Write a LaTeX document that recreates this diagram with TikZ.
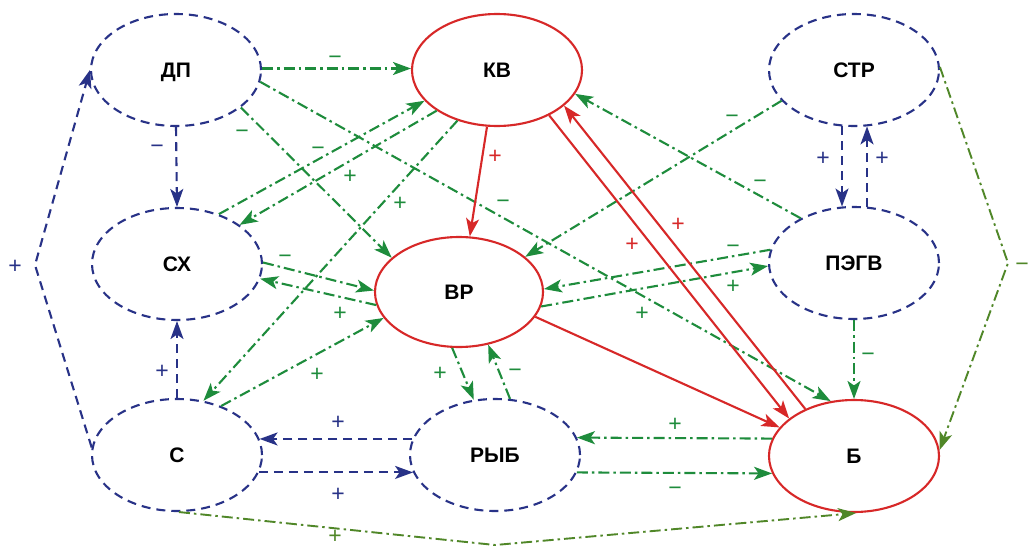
\documentclass[tikz,border=0pt]{standalone}
\usepackage{fontspec}
\setmainfont{Liberation Sans}
\usetikzlibrary{arrows.meta,shapes.geometric}
\definecolor{navy}{RGB}{40,50,135}
\definecolor{grn}{RGB}{30,140,60}
\definecolor{olv}{RGB}{80,135,40}
\definecolor{rd}{RGB}{215,40,40}
\begin{document}
\begin{tikzpicture}[x=1pt,y=-1pt,
  nd/.style={ellipse, inner sep=0pt, minimum width=170pt, minimum height=112pt,
    line width=2.1pt, text height=15pt, text depth=0pt,
    font=\fontsize{21}{21}\selectfont\bfseries},
  bnd/.style={nd, draw=navy, dash pattern=on 9pt off 6pt},
  rnd/.style={nd, draw=rd},
  tipend/.style={-{Stealth[length=18pt,width=13pt,inset=4.5pt]}},
  bl/.style={tipend, navy, line width=2.1pt, dash pattern=on 9pt off 6pt},
  gr/.style={tipend, grn, line width=2.1pt, dash pattern=on 11pt off 4pt on 2.5pt off 4pt},
  ol/.style={tipend, olv, line width=1.9pt, dash pattern=on 11pt off 4pt on 2.5pt off 4pt},
  rl/.style={tipend, rd, line width=2.1pt},
  lb/.style={font=\fontsize{23}{23}\selectfont, inner sep=0pt, anchor=base, yshift=-8.1pt},
]
\useasboundingbox (0,0) rectangle (1031,549);
\fill[white] (0,0) rectangle (1031,549);

% nodes
\node[bnd] (dp)   at (176,70)  {ДП};
\node[rnd] (kv)   at (497,70)  {КВ};
\node[bnd] (str)  at (854,70)  {СТР};
\node[bnd] (sx)   at (177,264) {СХ};
\node[rnd, minimum width=168pt, minimum height=110pt] (vr) at (459,292) {ВР};
\node[bnd] (pegv) at (854,263) {ПЭГВ};
\node[bnd] (s)    at (177,455) {С};
\node[bnd] (ryb)  at (495,455) {РЫБ};
\node[rnd] (b)    at (854,456) {Б};

\coordinate (lv) at (35,265);
\coordinate (rv) at (1008,263);
\coordinate (bv) at (495,545);

% navy dashed
\draw[bl] (dp.south) -- (sx.north);
\draw[bl] (s.north) -- (sx.south);
\draw[bl] (ryb.169) -- (s.11);
\draw[bl] (s.-12) -- (ryb.192);
\draw[bl] (str.-102) -- (pegv.102);
\draw[bl] (pegv.77) -- (str.-77);
\draw[bl] (s.175) -- (lv) -- (dp.180);

% green dash-dot
\draw[gr] (dp.1) -- (kv.179);
\draw[gr] (dp.-30) -- (vr.153);
\draw[gr] (dp.-8) -- (b.113);
\draw[gr] (sx.50) -- (kv.-157);
\draw[gr] (kv.-146) -- (sx.32);
\draw[gr] (kv.-128) -- (s.64);
\draw[gr] (s.48) -- (vr.199);
\draw[gr] (sx.1) -- (vr.179);
\draw[gr] (vr.189) -- (sx.-10);
\draw[gr] (str.-157) -- (vr.28);
\draw[gr] (pegv.140) -- (kv.-17);
\draw[gr] (pegv.171) -- (vr.2);
\draw[gr] (vr.-10) -- (pegv.182);
\draw[gr] (pegv.south) -- (b.north);
\draw[gr] (b.168) -- (ryb.12);
\draw[gr] (ryb.-12) -- (b.192);
\draw[gr] (vr.-97) -- (ryb.111);
\draw[gr] (ryb.75) -- (vr.-61);

% olive dash-dot
\draw[ol] (str.2) -- (rv) -- (b.4);
\draw[ol] (s.-88) -- (bv) -- (b.-88);

% red
\draw[rl] (kv.-100) -- (vr.79);
\draw[rl] (vr.-18) -- (b.159);
\draw[rl] (kv.-41) -- (b.150);
\draw[rl] (b.136) -- (kv.-28);

% labels navy
\node[lb, navy] (n1) at (157,145) {−};
\node[lb, navy] (n2) at (162,370) {+};
\node[lb, navy] (n3) at (15,265) {+};
\node[lb, navy] (n4) at (338,421) {+};
\node[lb, navy] (n5) at (338,493) {+};
\node[lb, navy] (n6) at (823,157) {+};
\node[lb, navy] (n7) at (882,157) {+};
% labels green
\node[lb, grn] (g1) at (335,56) {−};
\node[lb, grn] (g2) at (242,130) {−};
\node[lb, grn] (g3) at (318,147) {−};
\node[lb, grn] (g4) at (350,175) {+};
\node[lb, grn] (g5) at (400,202) {+};
\node[lb, grn] (g6) at (285,255) {−};
\node[lb, grn] (g7) at (340,312) {+};
\node[lb, grn] (g8) at (317,373) {+};
\node[lb, grn] (g9) at (503,200) {−};
\node[lb, grn] (g10) at (642,312) {+};
\node[lb, grn] (g11) at (732,115) {−};
\node[lb, grn] (g12) at (760,180) {−};
\node[lb, grn] (g13) at (733,245) {−};
\node[lb, grn] (g14) at (733,285) {+};
\node[lb, grn] (g15) at (868,353) {−};
\node[lb, grn] (g16) at (440,372) {+};
\node[lb, grn] (g17) at (515,369) {−};
\node[lb, grn] (g18) at (675,423) {+};
\node[lb, grn] (g19) at (675,487) {−};
% labels olive
\node[lb, olv] (o1) at (1022,263) {−};
\node[lb, olv] (o2) at (335,535) {+};
% labels red
\node[lb, rd] (r1) at (495,155) {+};
\node[lb, rd] (r2) at (632,243) {+};
\node[lb, rd] (r3) at (678,223) {+};
\end{tikzpicture}
\end{document}
